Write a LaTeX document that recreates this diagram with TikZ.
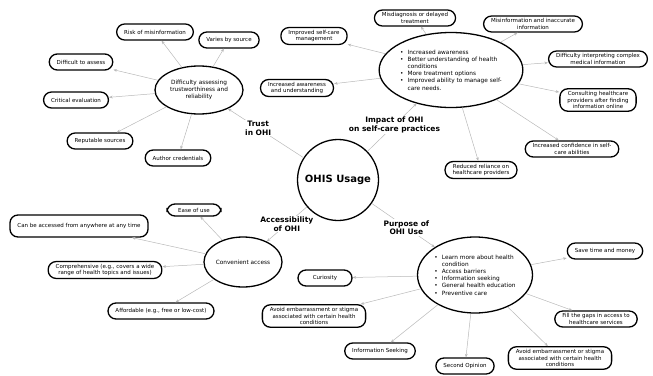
\documentclass[tikz,border=0pt]{standalone}
\usepackage{fontspec}
\setmainfont{DejaVu Sans}
\usetikzlibrary{arrows.meta, positioning, shapes.geometric}

\newcommand{\itm}[1]{\textbullet\hspace{4pt}#1}
\newcommand{\cnt}[1]{\phantom{\textbullet}\hspace{4pt}#1}

\begin{document}
\begin{tikzpicture}[
  x=1pt, y=-1pt,
  every node/.style={font=\fontsize{5.5}{6.6}\selectfont},
  box/.style={draw, line width=1.3pt, rounded corners=8pt, align=center, inner xsep=7.5pt, inner ysep=2.5pt, minimum height=16pt, minimum width=54pt},
  bubble/.style={draw, ellipse, line width=1.3pt, inner sep=0pt, align=center, font=\fontsize{5.8}{7.2}\selectfont},
  hub/.style={draw, circle, line width=1.3pt, minimum size=81pt, font=\bfseries\fontsize{10}{12}\selectfont},
  lbl/.style={fill=white, inner sep=1pt, align=center, font=\bfseries\fontsize{7.5}{8.5}\selectfont},
  arr/.style={-{Stealth[length=3.5pt, width=2.8pt]}, draw=gray!55, line width=0.5pt},
]
  \useasboundingbox (0,0) rectangle (653,375);

  \node[hub] (ohis) at (338,180) {OHIS Usage};

  \node[bubble, minimum width=88pt, minimum height=48pt] (trust) at (199,90) {Difficulty assessing\\trustworthiness and\\reliability};
  \node[bubble, minimum width=132pt, minimum height=75pt, align=left] (impact) at (451,70)
    {\itm{Increased awareness}\\\itm{Better understanding of health}\\\cnt{conditions}\\\itm{More treatment options}\\\itm{Improved ability to manage self-}\\\cnt{care needs.}};
  \node[bubble, minimum width=78pt, minimum height=50pt] (conv) at (243,262) {Convenient access};
  \node[bubble, minimum width=115pt, minimum height=76pt, align=left] (purpose) at (475,275)
    {\itm{Learn more about health}\\\cnt{condition}\\\itm{Access barriers}\\\itm{Information seeking}\\\itm{General health education}\\\itm{Preventive care}};

  \node[box] (risk) at (155,32) {Risk of misinformation};
  \node[box] (varies) at (229,40) {Varies by source};
  \node[box] (hard) at (81,62) {Difficult to assess};
  \node[box] (critical) at (76,100) {Critical evaluation};
  \node[box] (reput) at (100,141) {Reputable sources};
  \node[box] (author) at (178,158) {Author credentials};

  \node[box] (selfcare) at (314,36) {Improved self-care\\management};
  \node[box] (misdiag) at (415,18) {Misdiagnosis or delayed\\treatment};
  \node[box] (misinfo) at (533,24) {Misinformation and inaccurate\\information};
  \node[box] (interp) at (598,59) {Difficulty interpreting complex\\medical information};
  \node[box] (consult) at (598,100) {Consulting healthcare\\providers after finding\\information online};
  \node[box] (confid) at (572,149) {Increased confidence in self-\\care abilities};
  \node[box] (reliance) at (481,170) {Reduced reliance on\\healthcare providers};
  \node[box] (aware) at (297,88) {Increased awareness\\and understanding};

  \node[box, minimum height=12pt, inner ysep=1pt] (ease) at (194,210) {Ease of use};
  \node[box, minimum height=22pt] (anywhere) at (79,226) {Can be accessed from anywhere at any time};
  \node[box] (compreh) at (105,270) {Comprehensive (e.g., covers a wide\\range of health topics and issues)};
  \node[box] (afford) at (161,311) {Affordable (e.g., free or low-cost)};

  \node[box] (save) at (605,251) {Save time and money};
  \node[box] (curio) at (325,278) {Curiosity};
  \node[box] (avoidl) at (314,316) {Avoid embarrassment or stigma\\associated with certain health\\conditions};
  \node[box, inner ysep=1pt] (fill) at (596,319) {Fill the gaps in access to\\healthcare services};
  \node[box] (seek) at (380,351) {Information Seeking};
  \node[box] (second) at (465,366) {Second Opinion};
  \node[box] (avoidr) at (560,358) {Avoid embarrassment or stigma\\associated with certain health\\conditions};

  \draw[arr] (ohis) -- node[lbl, pos=0.6] {Trust\\in OHI} (trust);
  \draw[arr] (ohis) -- node[lbl, pos=0.55] {Impact of OHI\\on self-care practices} (impact);
  \draw[arr] (ohis) -- node[lbl, pos=0.5] {Accessibility\\of OHI} (conv);
  \draw[arr] (ohis) -- node[lbl, pos=0.55] {Purpose of\\OHI Use} (purpose);

  \draw[arr] (trust) -- (risk);
  \draw[arr] (trust) -- (varies);
  \draw[arr] (trust) -- (hard);
  \draw[arr] (trust) -- (critical);
  \draw[arr] (trust) -- (reput);
  \draw[arr] (trust) -- (author);

  \draw[arr] (impact) -- (selfcare);
  \draw[arr] (impact) -- (misdiag);
  \draw[arr] (impact) -- (misinfo);
  \draw[arr] (impact) -- (interp);
  \draw[arr] (impact) -- (consult);
  \draw[arr] (impact) -- (confid);
  \draw[arr] (impact) -- (reliance);
  \draw[arr] (impact) -- (aware);

  \draw[arr] (conv) -- (ease);
  \draw[arr] (conv) -- (anywhere);
  \draw[arr] (conv) -- (compreh);
  \draw[arr] (conv) -- (afford);

  \draw[arr] (purpose) -- (save);
  \draw[arr] (purpose) -- (curio);
  \draw[arr] (purpose) -- (avoidl);
  \draw[arr] (purpose) -- (fill);
  \draw[arr] (purpose) -- (seek);
  \draw[arr] (purpose) -- (second);
  \draw[arr] (purpose) -- (avoidr);
\end{tikzpicture}
\end{document}
